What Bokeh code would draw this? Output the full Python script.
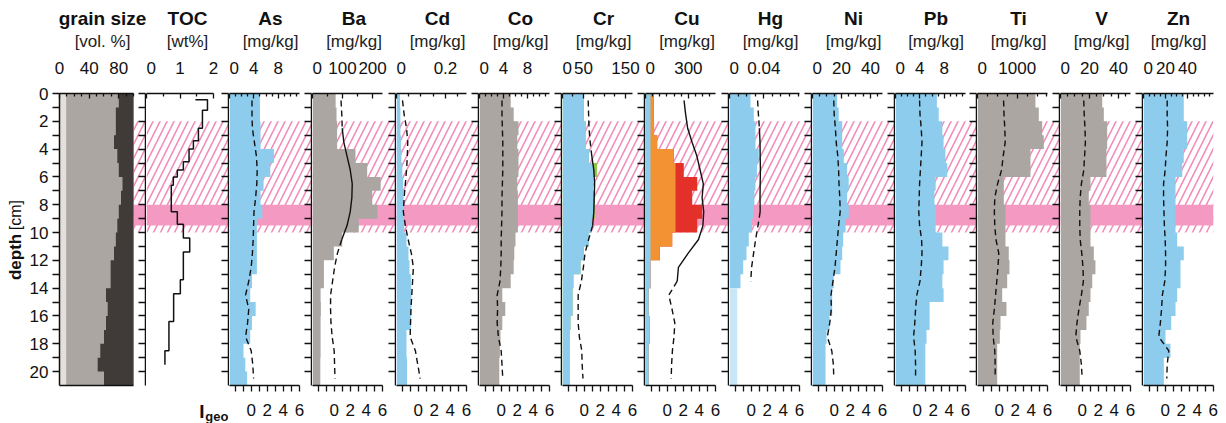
import math
from bokeh.plotting import figure
from bokeh.models import Range1d, LinearAxis, FixedTicker, BoxAnnotation, Label
from bokeh.layouts import row, column
from bokeh.embed import file_html
from bokeh.resources import INLINE

# ---------------------------------------------------------------- data
depth_edges = list(range(0, 22))            # 1-cm sample slices 0..21 cm
depth_mid = [d + 0.5 for d in range(21)]

# grain size, cumulative vol. % (clay, clay+silt); rest = sand
grain_clay = [9, 9, 9, 9, 9, 9, 9, 9, 9, 9, 9, 9, 9, 9, 9, 9, 9, 9, 9, 9, 9]
grain_fine = [80, 76, 76, 73.5, 78, 80, 85, 83, 80, 78, 76, 73.5, 69, 69, 62.7, 65, 62.7, 60, 55, 51.5, 60]

# TOC step profile
toc_edges = [0.45, 1.2, 2.5, 3.4, 4.0, 4.9, 5.5, 6.0, 6.6, 8.5, 9.4, 10.4, 11.4, 13.4, 14.4, 16.4, 18.5, 19.5]
toc_vals = [1.82, 1.67, 1.55, 1.40, 1.27, 1.10, 0.92, 0.80, 0.74, 0.92, 1.10, 1.29, 1.10, 1.01, 0.81, 0.67, 0.55]
toc_start = 1.46

# element concentrations [mg/kg] per 1-cm slice, and Igeo at slice mid-depths
As = [5.0, 5.0, 5.1, 5.1, 7.3, 6.7, 5.6, 5.1, 5.4, 4.5, 4.5, 4.5, 4.5, 3.7, 3.4, 4.3, 3.7, 3.4, 2.3, 2.6, 2.9]
As_igeo = [0.1, 0.1, 0.15, 0.4, 0.65, 0.75, 0.7, 0.55, 0.35, 0.3, 0.25, 0.15, 0.0, -0.3, -0.7, -0.3, -0.45, -0.7, 0.0, 0.2, 0.3]

Ba = [77, 80, 82, 82, 143, 182, 227, 199, 216, 154, 99, 71, 38, 38, 27, 28, 27, 27, 27, 26, 26]
Ba_igeo = [0.85, 0.95, 1.0, 1.2, 1.6, 2.0, 2.25, 2.2, 2.0, 1.6, 0.95, 0.4, 0.05, -0.2, -0.45, -0.45, -0.4, -0.25, 0.0, 0.05, 0.1]

Cd = [0.014, 0.016, 0.016, 0.018, 0.020, 0.024, 0.027, 0.029, 0.029, 0.031, 0.041, 0.049, 0.053, 0.059,
      0.061, 0.061, 0.059, 0.041, 0.041, 0.043, 0.043]
Cd_igeo = [-1.95, -1.75, -1.45, -1.3, -1.35, -1.45, -1.6, -1.75, -1.85, -1.6, -1.25, -0.85, -0.6, -0.7,
           -0.8, -0.9, -0.95, -1.0, -0.35, -0.05, 0.25]

Co = [5.2, 5.7, 6.5, 6.3, 6.5, 6.5, 6.3, 6.4, 6.4, 6.4, 6.0, 5.8, 5.7, 5.2, 3.8, 4.3, 3.8, 3.5, 3.4, 3.3, 3.3]
Co_igeo = [0.1, 0.1, 0.15, 0.2, 0.2, 0.2, 0.15, 0.1, 0.1, 0.05, 0.0, 0.0, -0.05, -0.15, -0.5, -0.45, -0.5, -0.35, 0.0, 0.1, 0.2]

Cr = [51, 51, 55, 55, 63, 82, 73, 77, 77, 69, 63, 51, 43, 26, 24, 24, 19, 17, 17, 17, 17]
Cr_igeo = [0.5, 0.55, 0.6, 0.75, 0.95, 1.2, 1.3, 1.25, 1.2, 1.05, 0.55, 0.1, -0.1, -0.35, -0.75, -0.75, -0.75, -0.6, -0.3, -0.25, -0.15]

Cu = [58, 58, 60, 82, 198, 268, 362, 327, 397, 362, 187, 100, 35, 35, 23, 23, 29, 29, 23, 23, 23]
Cu_igeo = [2.1, 2.3, 2.55, 3.1, 3.7, 4.1, 4.5, 4.35, 4.55, 4.45, 3.9, 2.6, 1.4, 1.25, 0.2, 0.6, 0.95, 0.85, 0.65, 0.55, 0.5]

Hg = [0.0245, 0.0283, 0.0303, 0.0303, 0.0341, 0.032, 0.0303, 0.0291, 0.028, 0.0262, 0.0225, 0.0198, 0.016,
      0.0128, 0.009, 0.009, 0.009, 0.009, 0.009, 0.009, 0.009]
Hg_below_dl = [False] * 14 + [True] * 7
Hg_igeo = [0.8, 0.9, 1.02, 1.1, 1.12, 1.15, 1.12, 1.1, 1.12, 0.85, 0.55, 0.3, 0.05, -0.05]

Ni = [17.0, 18.1, 20.5, 20.5, 21.6, 23.9, 25.0, 23.9, 25.0, 22.8, 21.2, 20.5, 19.3, 14.7, 13.6, 13.6, 11.7, 9.7, 9.0, 9.0, 9.0]
Ni_igeo = [-0.05, 0.0, 0.15, 0.25, 0.45, 0.55, 0.6, 0.7, 0.75, 0.55, 0.4, 0.25, 0.1, -0.15, -0.4, -0.35, -0.55, -0.85, -0.3, -0.1, -0.05]

Pb = [6.8, 7.1, 7.7, 7.9, 8.2, 8.5, 6.6, 6.4, 6.6, 6.6, 7.7, 8.7, 7.9, 7.7, 7.9, 5.6, 5.6, 5.1, 4.9, 4.9, 4.9]
Pb_igeo = [0.3, 0.35, 0.5, 0.6, 0.5, 0.4, 0.3, 0.25, 0.2, 0.3, 0.55, 0.6, 0.5, 0.35, -0.05, -0.2, -0.3, -0.45, -0.25, -0.2, -0.2]

Ti = [1460, 1545, 1630, 1670, 1335, 1335, 663, 663, 705, 705, 705, 788, 806, 748, 622, 730, 580, 562, 496, 496, 496]
Ti_igeo = [0.55, 0.6, 0.7, 0.75, 0.5, 0.3, -0.2, -0.55, -0.6, -0.55, -0.4, -0.05, -0.15, -0.3, -0.45, -0.6, -0.8, -0.75, -0.55, -0.5, -0.5]

V = [28.8, 29.9, 32.2, 32.2, 31.7, 31.7, 20.7, 19.5, 20.7, 20.7, 20.7, 23.0, 24.1, 21.9, 20.7, 19.5, 17.9, 13.8, 13.3, 13.3, 13.3]
V_igeo = [0.2, 0.25, 0.35, 0.4, 0.3, 0.2, -0.1, -0.25, -0.3, -0.3, -0.25, -0.05, 0.1, 0.15, -0.1, -0.4, -0.65, -0.8, -0.3, -0.1, 0.0]

Zn = [36.6, 36.6, 39.7, 39.7, 36.6, 35.2, 29.1, 29.1, 29.1, 29.1, 30.6, 36.6, 33.6, 33.6, 30.6, 29.1, 25.2, 20.0, 24.5, 18.5, 18.5]
Zn_igeo = [0.25, 0.25, 0.3, 0.25, 0.1, 0.0, -0.2, -0.2, -0.15, -0.1, 0.0, 0.05, 0.05, -0.05, -0.35, -0.45, -0.6, -0.8, 0.45, 0.25, 0.2]

Cu_thresholds = [35, 210]   # lower / upper guideline values
Cr_threshold = 73

hatch_zone = (2, 10)        # depth interval with hatch
event_layer = (8, 9.5)      # solid pink layer

# ---------------------------------------------------------------- style
FONT = "Liberation Sans"
BLUE = "#8dccec"
LIGHT_BLUE = "#c8e6f6"
GRAY = "#aba6a1"
LIGHT = "#e4e1dd"
DARK = "#403b38"
ORANGE = "#f39233"
RED = "#e3312a"
GREEN = "#8cc63f"
PINK = "#f49ac2"
PINK_H = "#f28cb9"
INK = "#111111"

H = 423
TOP = 93
BOT = 38
DATA_W = 70
LABEL_W = 26
CAP_H = 25
widths = [146 - LABEL_W, 83, 83, 84, 83, 83, 83, 84, 83, 83, 82, 83, 83, 83]
TICK_FS = "17px"


def depth_ticker():
    return FixedTicker(ticks=list(range(0, 21, 2)), minor_ticks=list(range(1, 21, 2)))


def step_patch(vals, edges, base=0.0):
    xs, ys = [base], [edges[0]]
    for i, v in enumerate(vals):
        xs += [v, v]
        ys += [edges[i], edges[i + 1]]
    xs.append(base)
    ys.append(edges[len(vals)])
    return xs, ys


def igeo_lines(vals, mids, thr=1.0):
    solid, dashed = ([], []), ([], [])
    cur, cx, cy = None, [], []
    for i in range(len(vals) - 1):
        st = (vals[i] + vals[i + 1]) / 2 > thr
        if st != cur:
            if cx:
                tgt = solid if cur else dashed
                tgt[0].append(cx); tgt[1].append(cy)
            cx, cy, cur = [vals[i]], [mids[i]], st
        cx.append(vals[i + 1]); cy.append(mids[i + 1])
    if cx:
        tgt = solid if cur else dashed
        tgt[0].append(cx); tgt[1].append(cy)
    return solid, dashed


def new_fig(width, xr, title, title_offset, left=0, right=1, height=H, bottom=BOT):
    p = figure(width=width, height=height, x_range=xr, y_range=Range1d(21, 0),
               output_backend="svg", toolbar_location=None,
               min_border_left=left, min_border_right=right,
               min_border_top=TOP, min_border_bottom=bottom,
               x_axis_location=None, y_axis_location=None, title=title)
    p.outline_line_color = None
    p.background_fill_color = "white"
    p.border_fill_color = "white"
    p.xgrid.visible = False
    p.ygrid.visible = False
    p.title.align = "center"
    p.title.text_font = FONT
    p.title.text_font_size = "19px"
    p.title.text_font_style = "bold"
    p.title.text_color = INK
    p.title.offset = title_offset
    p.title.standoff = 0
    return p


def top_axis(p, mx, major, minor, unit):
    ax = LinearAxis(bounds=(0, mx), ticker=FixedTicker(ticks=major, minor_ticks=minor),
                    axis_label=unit)
    ax.major_label_overrides = {m: ("%g" % m) for m in major}
    ax.axis_line_width = 1.5
    ax.axis_line_color = INK
    ax.major_tick_line_color = INK
    ax.minor_tick_line_color = INK
    ax.major_tick_line_width = 1.3
    ax.minor_tick_line_width = 1.3
    ax.major_tick_in = 5
    ax.major_tick_out = 0
    ax.minor_tick_in = 3
    ax.minor_tick_out = 0
    ax.major_label_standoff = 20
    ax.major_label_text_font = FONT
    ax.major_label_text_font_size = TICK_FS
    ax.major_label_text_color = INK
    ax.axis_label_text_font = FONT
    ax.axis_label_text_font_size = "17px"
    ax.axis_label_text_font_style = "normal"
    ax.axis_label_text_color = "#222222"
    ax.axis_label_standoff = 8
    p.add_layout(ax, "above")


def depth_axis(p, side):
    if side == "left":
        ax = LinearAxis(bounds=(0, 21), ticker=depth_ticker())
        ax.major_tick_out = 7
        ax.minor_tick_out = 7
        ax.major_tick_in = 0
        ax.minor_tick_in = 0
        ax.major_label_standoff = 4
        ax.major_label_text_font = FONT
        ax.major_label_text_font_size = TICK_FS
        ax.major_label_text_color = INK
    else:
        # axis line + inward ticks of the neighbouring panel, no labels
        ax = LinearAxis(bounds=(0, 21),
                        ticker=FixedTicker(ticks=[], minor_ticks=list(range(0, 21))))
        ax.major_tick_out = 0
        ax.minor_tick_out = 0
        ax.major_tick_in = 7
        ax.minor_tick_in = 7
        ax.major_label_standoff = 0
    ax.axis_line_width = 1.5
    ax.axis_line_color = INK
    ax.major_tick_line_color = INK
    ax.minor_tick_line_color = INK
    ax.major_tick_line_width = 1.5
    ax.minor_tick_line_width = 1.5
    p.add_layout(ax, side)


def bands(p, left=None):
    kw = {} if left is None else {"left": left}
    p.add_layout(BoxAnnotation(top=hatch_zone[0], bottom=hatch_zone[1], fill_color=None,
                               line_color=None, hatch_pattern="/", hatch_color=PINK_H,
                               hatch_scale=14, hatch_weight=1.6, level="underlay", **kw))
    p.add_layout(BoxAnnotation(top=event_layer[0], bottom=event_layer[1], fill_color=PINK,
                               fill_alpha=1.0, line_color=None, level="underlay", **kw))


def text_fig(width, height, xr, yr):
    f = figure(width=width, height=height, x_range=xr, y_range=yr,
               output_backend="svg", toolbar_location=None, min_border=0,
               x_axis_location=None, y_axis_location=None)
    f.outline_line_color = None
    f.xgrid.visible = False
    f.ygrid.visible = False
    return f


figs = []

# ---- narrow strip carrying the vertical depth title (same depth scale as the panels)
pl = text_fig(LABEL_W, H, Range1d(0, LABEL_W), Range1d(21, 0))
pl.min_border_top = TOP
pl.min_border_bottom = BOT
pl.add_layout(Label(x=15, y=11.75, text="depth", angle=math.pi / 2, text_font=FONT,
                    text_font_size="17px", text_font_style="bold", text_align="center",
                    text_baseline="middle", text_color=INK))
pl.add_layout(Label(x=15, y=8.75, text="[cm]", angle=math.pi / 2, text_font=FONT,
                    text_font_size="16px", text_align="center", text_baseline="middle",
                    text_color=INK))
figs.append(pl)

# ---- grain size
left_b = 58 - LABEL_W
fw = widths[0] - left_b - 1
pg = new_fig(widths[0], Range1d(0, 100 * fw / 75), "grain size", -(fw - 75) / 2, left=left_b)
top_axis(pg, 100, [0, 40, 80], [10, 20, 30, 50, 60, 70, 90, 100], "[vol. %]")
bands(pg, left=100)
xs, ys = step_patch([100] * 21, depth_edges)
pg.patch(xs, ys, fill_color=DARK, line_color=None)
xs, ys = step_patch(grain_fine, depth_edges)
pg.patch(xs, ys, fill_color=GRAY, line_color=None)
xs, ys = step_patch(grain_clay, depth_edges)
pg.patch(xs, ys, fill_color=LIGHT, line_color=None)
depth_axis(pg, "left")
depth_axis(pg, "right")
bax = LinearAxis(bounds=(0, 100), ticker=FixedTicker(ticks=[]), major_tick_out=0, major_tick_in=0,
                 minor_tick_out=0, minor_tick_in=0, axis_line_width=1.5, axis_line_color=INK)
pg.add_layout(bax, "below")
figs.append(pg)

# ---- TOC, with the Igeo caption in a small strip underneath
fw = widths[1] - 1
pt = new_fig(widths[1], Range1d(0, 2 * fw / 67), "TOC", -(fw - 67) / 2,
             height=H - CAP_H, bottom=BOT - CAP_H)
top_axis(pt, 2, [0, 1, 2], [0.5, 1.5], "[wt%]")
bands(pt)
tx, ty = [toc_start, toc_vals[0]], [toc_edges[0], toc_edges[0]]
for i, v in enumerate(toc_vals):
    if i > 0:
        tx.append(v); ty.append(toc_edges[i])
    tx.append(v); ty.append(toc_edges[i + 1])
pt.line(tx, ty, line_color=INK, line_width=1.5)
depth_axis(pt, "right")

pc = text_fig(widths[1], CAP_H, Range1d(0, widths[1]), Range1d(CAP_H, 0))
pc.add_layout(Label(x=56, y=13, text="I", text_font=FONT, text_font_size="19px",
                    text_font_style="bold", text_align="center", text_baseline="middle",
                    text_color=INK))
pc.add_layout(Label(x=59.5, y=18, text="geo", text_font=FONT, text_font_size="13px",
                    text_font_style="bold", text_align="left", text_baseline="middle",
                    text_color=INK))
figs.append(column(pt, pc, spacing=0))

# ---- element panels
panels = [
    ("As", As, As_igeo, 11.5, [0, 4, 8], [1, 2, 3, 5, 6, 7, 9, 10, 11], "blue"),
    ("Ba", Ba, Ba_igeo, 233, [0, 100, 200], [50, 150], "gray"),
    ("Cd", Cd, Cd_igeo, 0.286, [0, 0.2], [0.05, 0.1, 0.15, 0.25], "blue"),
    ("Co", Co, Co_igeo, 11.67, [0, 4, 8], [1, 2, 3, 5, 6, 7, 9, 10, 11], "gray"),
    ("Cr", Cr, Cr_igeo, 166.7, [0, 50, 150], [25, 75, 100, 125], "cr"),
    ("Cu", Cu, Cu_igeo, 490, [0, 300], [50, 100, 150, 200, 250, 350, 400, 450], "cu"),
    ("Hg", Hg, Hg_igeo, 0.0816, [0, 0.04], [0.01, 0.02, 0.03, 0.05, 0.06, 0.07, 0.08], "hg"),
    ("Ni", Ni, Ni_igeo, 48.3, [0, 20, 40], [5, 10, 15, 25, 30, 35, 45], "blue"),
    ("Pb", Pb, Pb_igeo, 11.5, [0, 4, 8], [1, 2, 3, 5, 6, 7, 9, 10, 11], "blue"),
    ("Ti", Ti, Ti_igeo, 1764, [0, 1000], [250, 500, 750, 1250, 1500, 1750], "gray"),
    ("V", V, V_igeo, 48.3, [0, 20, 40], [5, 10, 15, 25, 30, 35, 45], "gray"),
    ("Zn", Zn, Zn_igeo, 63.6, [0, 20, 40], [5, 10, 15, 25, 30, 35, 45, 50, 55, 60], "blue"),
]

for k, (name, vals, igeo, mx, major, minor, kind) in enumerate(panels):
    w = widths[k + 2]
    last = k == len(panels) - 1
    right = w - DATA_W if last else 1
    fw = w - right
    p = new_fig(w, Range1d(0, mx * fw / DATA_W), name, -(fw - DATA_W) / 2, right=right)
    p.extra_x_ranges = {"igeo": Range1d(-2.7, -2.7 + 8.7 * fw / DATA_W + 0.02)}
    top_axis(p, mx, major, minor, "[mg/kg]")
    bands(p)
    if kind == "cu":
        xs, ys = step_patch(vals, depth_edges)
        p.patch(xs, ys, fill_color=RED, line_color=None)
        xs, ys = step_patch([min(v, Cu_thresholds[1]) for v in vals], depth_edges)
        p.patch(xs, ys, fill_color=ORANGE, line_color=None)
        xs, ys = step_patch([min(v, Cu_thresholds[0]) for v in vals], depth_edges)
        p.patch(xs, ys, fill_color=BLUE, line_color=None)
    elif kind == "cr":
        xs, ys = step_patch(vals, depth_edges)
        p.patch(xs, ys, fill_color=GREEN, line_color=None)
        xs, ys = step_patch([min(v, Cr_threshold) for v in vals], depth_edges)
        p.patch(xs, ys, fill_color=BLUE, line_color=None)
    elif kind == "hg":
        n = Hg_below_dl.index(True)
        xs, ys = step_patch(vals[:n], depth_edges[:n + 1])
        p.patch(xs, ys, fill_color=BLUE, line_color=None)
        xs, ys = step_patch(vals[n:], depth_edges[n:])
        p.patch(xs, ys, fill_color=LIGHT_BLUE, line_color=None)
    else:
        xs, ys = step_patch(vals, depth_edges)
        p.patch(xs, ys, fill_color=(GRAY if kind == "gray" else BLUE), line_color=None)
    (sx, sy), (dx, dy) = igeo_lines(igeo, depth_mid[:len(igeo)])
    if sx:
        p.multi_line(sx, sy, x_range_name="igeo", line_color=INK, line_width=1.4)
    if dx:
        p.multi_line(dx, dy, x_range_name="igeo", line_color=INK, line_width=1.4, line_dash="6 4")
    bx = LinearAxis(x_range_name="igeo", bounds=(-2.7, 6.0),
                    ticker=FixedTicker(ticks=[0, 2, 4, 6], minor_ticks=[-2, -1, 1, 3, 5]))
    bx.major_label_overrides = {t: str(t) for t in [0, 2, 4, 6]}
    bx.axis_line_width = 1.5
    bx.axis_line_color = INK
    bx.major_tick_line_color = INK
    bx.minor_tick_line_color = INK
    bx.major_tick_line_width = 1.3
    bx.minor_tick_line_width = 1.3
    bx.major_tick_out = 6
    bx.minor_tick_out = 6
    bx.major_tick_in = 0
    bx.minor_tick_in = 0
    bx.major_label_standoff = 12
    bx.major_label_text_font = FONT
    bx.major_label_text_font_size = TICK_FS
    bx.major_label_text_color = INK
    p.add_layout(bx, "below")
    if not last:
        depth_axis(p, "right")
    figs.append(p)

layout = row(*figs, spacing=0)
open("out.html", "w").write(file_html(layout, INLINE))
